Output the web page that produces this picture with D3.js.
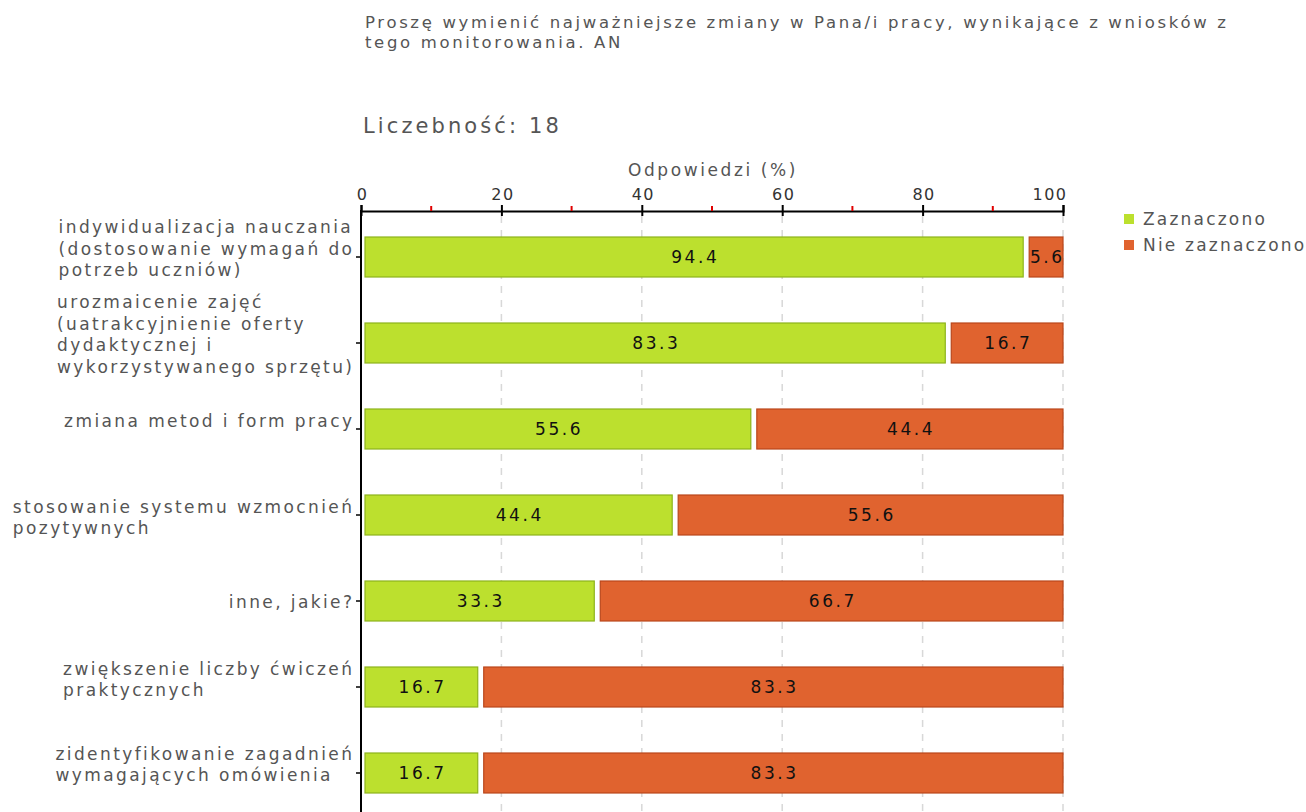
<!DOCTYPE html>
<html>
<head>
<meta charset="utf-8">
<script src="https://cdn.jsdelivr.net/npm/d3@7"></script>
<style>
  body { margin: 0; background: #fff; }
  svg { display: block; }
  text { font-family: 'DejaVu Sans', Verdana, sans-serif; }
</style>
</head>
<body>
<svg id="chart"></svg>
<script>
// data
const categories = [
  ["indywidualizacja nauczania", "(dostosowanie wymagań do", "potrzeb uczniów)"],
  ["urozmaicenie zajęć", "(uatrakcyjnienie oferty", "dydaktycznej i", "wykorzystywanego sprzętu)"],
  ["zmiana metod i form pracy"],
  ["stosowanie systemu wzmocnień", "pozytywnych"],
  ["inne, jakie?"],
  ["zwiększenie liczby ćwiczeń", "praktycznych"],
  ["zidentyfikowanie zagadnień", "wymagających omówienia"]
];
const zaznaczono = [94.4, 83.3, 55.6, 44.4, 33.3, 16.7, 16.7];
const nieZaznaczono = [5.6, 16.7, 44.4, 55.6, 66.7, 83.3, 83.3];
const seriesNames = ["Zaznaczono", "Nie zaznaczono"];
const majorTicks = [0, 20, 40, 60, 80, 100];
const minorTicks = [10, 30, 50, 70, 90];

// styles / layout
const seriesColors = ["#bce02e", "#e0632f"];
const seriesStroke = ["#8db31b", "#b9471c"];
const labelShift = [-10, -10, -10, 1, -1, -9, -10]; // label block offset vs bar centre

const width = 1306, height = 812;
const LS = 2.4; // letter spacing of category labels
const svg = d3.select("#chart").attr("width", width).attr("height", height);

const x = d3.scaleLinear().domain([0, 100]).range([361, 1063]);
const ids = categories.map((c, i) => i);
const y = d3.scaleBand().domain(ids).range([214, 816])
  .paddingInner(0.535).paddingOuter(0.2675);

// title
const titleLines = ["Proszę wymienić najważniejsze zmiany w Pana/i pracy, wynikające z wniosków z", "tego monitorowania. AN"];
svg.append("g").selectAll("text").data(titleLines).join("text")
  .attr("x", 365).attr("y", (d, i) => 28 + i * 20)
  .attr("fill", "#555").style("font-size", "16.5px")
  .style("letter-spacing", "2.65px")
  .text(d => d);
svg.append("text").attr("x", 363).attr("y", 133)
  .attr("fill", "#555").style("font-size", "21px").style("letter-spacing", "3.1px")
  .text("Liczebność: 18");

// axis title
svg.append("text").attr("x", (x(0) + x(100)) / 2 + 1).attr("y", 176)
  .attr("text-anchor", "middle").attr("fill", "#555").style("font-size", "17px")
  .style("letter-spacing", "2.6px")
  .text("Odpowiedzi (%)");

// grid
svg.append("g").selectAll("line").data(majorTicks.slice(1))
  .join("line")
  .attr("x1", d => x(d)).attr("x2", d => x(d))
  .attr("y1", 216).attr("y2", height)
  .attr("stroke", "#d8d8d8").attr("stroke-width", 1.5)
  .attr("stroke-dasharray", "7,7");

// top axis
const axisTop = d3.axisTop(x).tickValues(majorTicks).tickSize(6).tickFormat(d3.format("d"));
const gx = svg.append("g").attr("transform", "translate(0,211)").call(axisTop);
gx.select(".domain").attr("stroke", "#000").attr("stroke-width", 2);
gx.selectAll(".tick line").attr("stroke", "#000").attr("stroke-width", 2).attr("y2", 5).attr("y1", -6);
gx.selectAll(".tick text").attr("fill", "#333").style("font-size", "16px")
  .style("letter-spacing", "1.5px")
  .style("font-family", "'DejaVu Sans', sans-serif").attr("dy", "-2")
  .attr("text-anchor", d => d === 100 ? "end" : "middle")
  .attr("x", d => d === 100 ? 4 : 1);
gx.append("g").selectAll("line").data(minorTicks).join("line")
  .attr("x1", d => x(d)).attr("x2", d => x(d))
  .attr("y1", -5).attr("y2", 0).attr("stroke", "#e00000").attr("stroke-width", 2);

// left axis line
svg.append("line").attr("x1", x(0)).attr("x2", x(0))
  .attr("y1", 210).attr("y2", height).attr("stroke", "#000").attr("stroke-width", 2);
svg.append("g").selectAll("line").data(ids).join("line")
  .attr("x1", x(0) - 5).attr("x2", x(0))
  .attr("y1", d => y(d) + y.bandwidth() / 2).attr("y2", d => y(d) + y.bandwidth() / 2)
  .attr("stroke", "#000").attr("stroke-width", 1.5);

// bars
const stacked = ids.map(i => [
  { s: 0, x0: 0, x1: zaznaczono[i], v: zaznaczono[i], i },
  { s: 1, x0: zaznaczono[i], x1: zaznaczono[i] + nieZaznaczono[i], v: nieZaznaczono[i], i }
]).flat();

const bars = svg.append("g");
bars.selectAll("rect").data(stacked).join("rect")
  .attr("x", d => x(d.x0) + (d.s === 0 ? 4 : 5.5))
  .attr("y", d => y(d.i))
  .attr("width", d => x(d.x1) - x(d.x0) - (d.s === 0 ? 4.5 : 5.5))
  .attr("height", y.bandwidth())
  .attr("fill", d => seriesColors[d.s])
  .attr("stroke", d => seriesStroke[d.s]).attr("stroke-width", 1.2);

bars.selectAll("text").data(stacked).join("text")
  .attr("x", d => (x(d.x0) + x(d.x1)) / 2 + (d.s === 0 ? 3 : 4))
  .attr("y", d => y(d.i) + y.bandwidth() / 2 + 6)
  .attr("text-anchor", "middle").attr("fill", "#111").style("font-size", "17px")
  .style("letter-spacing", "2.6px")
  .text(d => d.v.toFixed(1));

// category labels (block right aligned, lines left aligned)
const lineH = 21.5;
categories.forEach((lines, i) => {
  const g = svg.append("g");
  const cy = y(i) + y.bandwidth() / 2 + labelShift[i];
  const top = cy - (lines.length - 1) * lineH / 2;
  const t = g.selectAll("text").data(lines).join("text")
    .attr("y", (d, k) => top + k * lineH + 7.5)
    .attr("fill", "#555").style("font-size", "17px")
    .style("letter-spacing", LS + "px")
    .text(d => d);
  let w = 0;
  t.each(function() { w = Math.max(w, this.getComputedTextLength()); });
  t.attr("x", 352 + LS - w);
});

// legend
const lg = svg.append("g").attr("transform", "translate(1124,219)");
seriesNames.forEach((n, i) => {
  lg.append("rect").attr("x", 0).attr("y", i * 26 - 5).attr("width", 10).attr("height", 10)
    .attr("fill", seriesColors[i]);
  lg.append("text").attr("x", 19).attr("y", i * 26 + 6)
    .attr("fill", "#555").style("font-size", "17px").style("letter-spacing", "2.2px").text(n);
});
</script>
</body>
</html>
